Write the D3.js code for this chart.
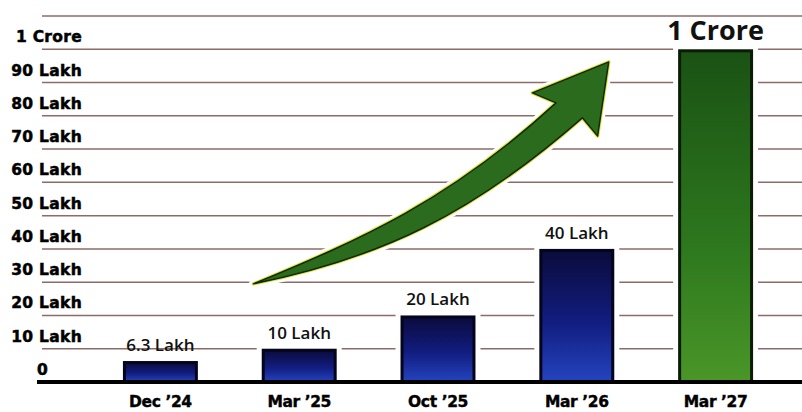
<!DOCTYPE html>
<html>
<head>
<meta charset="utf-8">
<script src="https://cdn.jsdelivr.net/npm/d3@7"></script>
<style>
    html, body { margin: 0; padding: 0; background: #fff; }
    svg { display: block; }
</style>
</head>
<body>
<svg id="chart" width="802" height="412"></svg>
<script>
var categories = ['Dec \u201924', 'Mar \u201925', 'Oct \u201925', 'Mar \u201926', 'Mar \u201927'];
var values = [6.3, 10, 20, 40, 100]; // lakh
var valueLabels = ['6.3 Lakh', '10 Lakh', '20 Lakh', '40 Lakh', '1 Crore'];
var tickValues = [0, 10, 20, 30, 40, 50, 60, 70, 80, 90, 100];
var tickLabels = ['0', '10 Lakh', '20 Lakh', '30 Lakh', '40 Lakh', '50 Lakh', '60 Lakh', '70 Lakh', '80 Lakh', '90 Lakh', '1 Crore'];
var gridValues = [10, 20, 30, 40, 50, 60, 70, 80, 90, 100, 110];

// growth arrow outline, as [category index, lakh]
var arrowTail = [0.67, 29.5];
var arrowUpper = [[1.44, 42.7], [2.09, 54.7], [2.85, 83.9]];
var arrowHead = [[2.68, 86.9], [3.23, 96.2], [3.15, 73.9], [3.04, 79.4]];
var arrowLower = [[2.24, 50.2], [1.59, 37.3]];

(function() {
    var svg = d3.select('#chart');

    var x = d3.scaleBand()
        .domain(categories)
        .range([91, 785])
        .paddingInner(0.46)
        .paddingOuter(0.23);

    var y = d3.scaleLinear()
        .domain([0, 110])
        .range([382, 16]);

    var bw = x.bandwidth();
    var xi = d3.scaleLinear()
        .domain([0, 4])
        .range([x(categories[0]) + bw / 2, x(categories[4]) + bw / 2]);

    var defs = svg.append('defs');
    var blue = defs.append('linearGradient')
        .attr('id', 'blueGrad').attr('x1', 0).attr('y1', 0).attr('x2', 0).attr('y2', 1);
    blue.append('stop').attr('offset', '0%').attr('stop-color', '#0a0b3c');
    blue.append('stop').attr('offset', '55%').attr('stop-color', '#121d80');
    blue.append('stop').attr('offset', '100%').attr('stop-color', '#2444c0');
    var green = defs.append('linearGradient')
        .attr('id', 'greenGrad').attr('x1', 0).attr('y1', 0).attr('x2', 0).attr('y2', 1);
    green.append('stop').attr('offset', '0%').attr('stop-color', '#1a5214');
    green.append('stop').attr('offset', '60%').attr('stop-color', '#2e781e');
    green.append('stop').attr('offset', '100%').attr('stop-color', '#4a9628');

    // gridlines
    svg.append('g').selectAll('line')
        .data(gridValues)
        .enter().append('line')
        .attr('x1', 42)
        .attr('x2', 802)
        .attr('y1', function(d) { return y(d); })
        .attr('y2', function(d) { return y(d); })
        .attr('stroke', '#7a5250')
        .attr('stroke-width', 1.5)
        .attr('opacity', 0.85);

    // y labels sit half a band above their line
    svg.append('g').selectAll('text')
        .data(tickValues)
        .enter().append('text')
        .attr('x', function(d) { return d === 0 ? 37 : 82; })
        .attr('y', function(d) { return y(d) - 7; })
        .attr('text-anchor', function(d) { return d === 0 ? 'start' : 'end'; })
        .attr('font-family', 'DejaVu Sans, sans-serif')
        .attr('font-weight', 'bold')
        .attr('font-size', 15.5)
        .attr('letter-spacing', 0.3)
        .attr('fill', '#000')
        .attr('stroke', '#000')
        .attr('stroke-width', 0.5)
        .text(function(d, i) { return tickLabels[i]; });

    // white halo so gridlines stop short of the bars
    svg.append('g').selectAll('rect')
        .data(values)
        .enter().append('rect')
        .attr('x', function(d, i) { return x(categories[i]) - 5; })
        .attr('y', function(d) { return y(d) - 2; })
        .attr('width', bw + 10)
        .attr('height', function(d) { return y(0) - y(d) + 2; })
        .attr('fill', '#fff');

    svg.append('g').selectAll('rect')
        .data(values)
        .enter().append('rect')
        .attr('x', function(d, i) { return x(categories[i]) + 1.5; })
        .attr('y', function(d) { return y(d) + 1.5; })
        .attr('width', bw - 3)
        .attr('height', function(d) { return y(0) - y(d) - 1.5; })
        .attr('fill', function(d, i) { return i === 4 ? 'url(#greenGrad)' : 'url(#blueGrad)'; })
        .attr('stroke', function(d, i) { return i === 4 ? '#0b1c06' : '#04051a'; })
        .attr('stroke-width', 3);

    // value labels
    svg.append('g').selectAll('text')
        .data(values)
        .enter().append('text')
        .attr('x', function(d, i) { return x(categories[i]) + bw / 2; })
        .attr('y', function(d, i) { return y(d) - (i === 4 ? 9 : 10); })
        .attr('text-anchor', 'middle')
        .attr('font-family', 'Open Sans, sans-serif')
        .attr('font-weight', function(d, i) { return i === 4 ? 700 : 600; })
        .attr('font-size', function(d, i) { return i === 4 ? 27 : 17; })
        .attr('fill', '#111')
        .text(function(d, i) { return valueLabels[i]; });

    // baseline
    svg.append('line')
        .attr('x1', 37).attr('x2', 802)
        .attr('y1', y(0)).attr('y2', y(0))
        .attr('stroke', '#000')
        .attr('stroke-width', 4);

    // x labels
    svg.append('g').selectAll('text')
        .data(categories)
        .enter().append('text')
        .attr('x', function(d) { return x(d) + bw / 2; })
        .attr('y', 407)
        .attr('text-anchor', 'middle')
        .attr('font-family', 'DejaVu Sans, sans-serif')
        .attr('font-weight', 'bold')
        .attr('font-size', 15.5)
        .attr('letter-spacing', -0.4)
        .attr('fill', '#000')
        .attr('stroke', '#000')
        .attr('stroke-width', 0.4)
        .text(function(d) { return d; });

    // arrow
    function pt(p) { return [xi(p[0]), y(p[1])]; }
    var p = d3.path();
    var t = pt(arrowTail);
    var u = arrowUpper.map(pt);
    var h = arrowHead.map(pt);
    var l = arrowLower.map(pt);
    p.moveTo(t[0], t[1]);
    p.bezierCurveTo(u[0][0], u[0][1], u[1][0], u[1][1], u[2][0], u[2][1]);
    h.forEach(function(q) { p.lineTo(q[0], q[1]); });
    p.bezierCurveTo(l[0][0], l[0][1], l[1][0], l[1][1], t[0], t[1]);
    p.closePath();

    svg.append('path').attr('d', p.toString())
        .attr('fill', '#fff').attr('stroke', '#fff').attr('stroke-width', 9)
        .attr('stroke-linejoin', 'round');
    svg.append('path').attr('d', p.toString())
        .attr('fill', 'none').attr('stroke', '#e4e03c').attr('stroke-width', 3.5)
        .attr('stroke-linejoin', 'round');
    svg.append('path').attr('d', p.toString())
        .attr('fill', '#2b6b1d').attr('stroke', '#0e2a09').attr('stroke-width', 1.5)
        .attr('stroke-linejoin', 'round');
})();
</script>
</body>
</html>
